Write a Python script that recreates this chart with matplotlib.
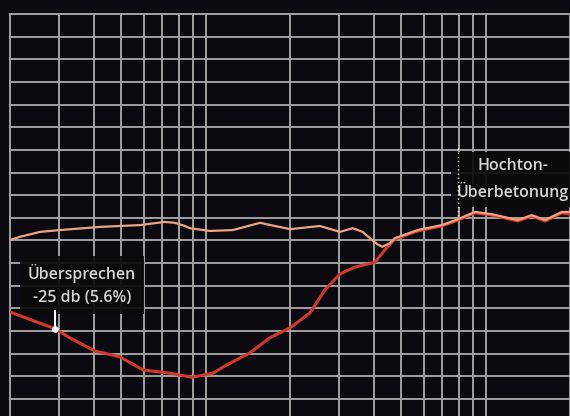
import matplotlib
matplotlib.use("Agg")
import matplotlib.pyplot as plt
import numpy as np

# Frequency response (dB) of the main channel
main_freq = [200, 217, 256, 302, 419, 583, 714, 776, 843, 879, 1036, 1250, 1562,
             2000, 2556, 3015, 3348, 3634, 3861, 4096, 4265, 4549, 4736, 5711,
             6970, 7962, 9163, 10523, 13029, 14600, 16299, 18700, 20000]
main_db = [-4.9, -4.2, -3.1, -2.7, -2.0, -1.6, -0.9, -1.1, -1.8, -2.3, -2.9, -2.7, -1.1,
           -2.5, -1.8, -3.1, -2.3, -3.1, -4.5, -5.8, -6.4, -5.6, -4.5, -2.7,
           -1.6, -0.3, 1.3, 0.8, -0.5, 0.6, -0.5, 1.3, 1.3]

# Crosstalk channel (dB)
cross_freq = [200, 290, 327, 402, 494, 597, 746, 893, 1062, 1170, 1439, 1692, 2000,
              2357, 2667, 3015, 3403, 4024, 4362, 4736, 5711, 6970, 7962, 9163,
              10523, 13029, 14600, 16299, 18700, 20000]
cross_db = [-20.8, -24.5, -26.5, -29.4, -30.7, -33.6, -34.3, -35.2, -34.3, -32.7, -29.8, -26.5, -24.3,
            -21.0, -15.9, -12.4, -10.9, -9.8, -7.1, -4.7, -2.9, -1.8, -0.5, 1.1,
            0.6, -0.7, 0.4, -0.7, 1.1, 0.8]

label_cross = "Übersprechen\n-25 db (5.6%)"
label_treble = "Hochton-\nÜberbetonung"

bg = "#0a0a10"
grid_c = "#a0a0a0"

fig = plt.figure(figsize=(5.7, 4.16), dpi=100, facecolor=bg)
ax = fig.add_axes([10 / 570, 0.0, 1 - 10 / 570, (416 - 14) / 416])
ax.set_facecolor(bg)
ax.set_xscale("log")
ax.set_xlim(200, 20000)
ax.set_ylim(-43.75, 45)
ax.set_yticks(np.arange(-40, 46, 5))
ax.grid(True, which="both", axis="x", color=grid_c, linewidth=1.4)
ax.grid(True, which="major", axis="y", color=grid_c, linewidth=1.4)
ax.tick_params(which="both", length=0, labelbottom=False, labelleft=False)
for s in ["right", "bottom"]:
    ax.spines[s].set_visible(False)
for s in ["top", "left"]:
    ax.spines[s].set_color(grid_c)
    ax.spines[s].set_linewidth(1.4)

ax.plot(cross_freq, cross_db, color="#d4382a", linewidth=2.2, solid_capstyle="round",
        solid_joinstyle="round", zorder=3)
ax.plot(main_freq, main_db, color="#eea282", linewidth=1.6, solid_joinstyle="round", zorder=4)

font = dict(family=["Open Sans", "DejaVu Sans"], fontweight="semibold", fontsize=11.5, color="#d4d4d4")

ax.text(0.129, 0.326, label_cross, transform=ax.transAxes, ha="center", va="center",
        linespacing=1.6, zorder=6,
        bbox=dict(boxstyle="square,pad=0.5", facecolor="#0b0b0b", edgecolor="none", alpha=0.92), **font)

# pointer to the crosstalk curve
px, py = cross_freq[1], cross_db[1]
ax.plot([px, px], [py, py + 4], color="white", linewidth=1.4, zorder=7)
ax.scatter([px], [py], s=14, color="white", zorder=8)

ax.text(0.898, 0.588, label_treble, transform=ax.transAxes, ha="center", va="center",
        linespacing=1.55, zorder=6,
        bbox=dict(boxstyle="square,pad=0.35", facecolor="#0b0b0b", edgecolor="none", alpha=0.92), **font)
ax.plot([7962, 7962], [0.5, 16], color="white", linestyle=(0, (1, 2)), linewidth=1.0, zorder=7)

fig.savefig("out.png", dpi=100, facecolor=bg)
